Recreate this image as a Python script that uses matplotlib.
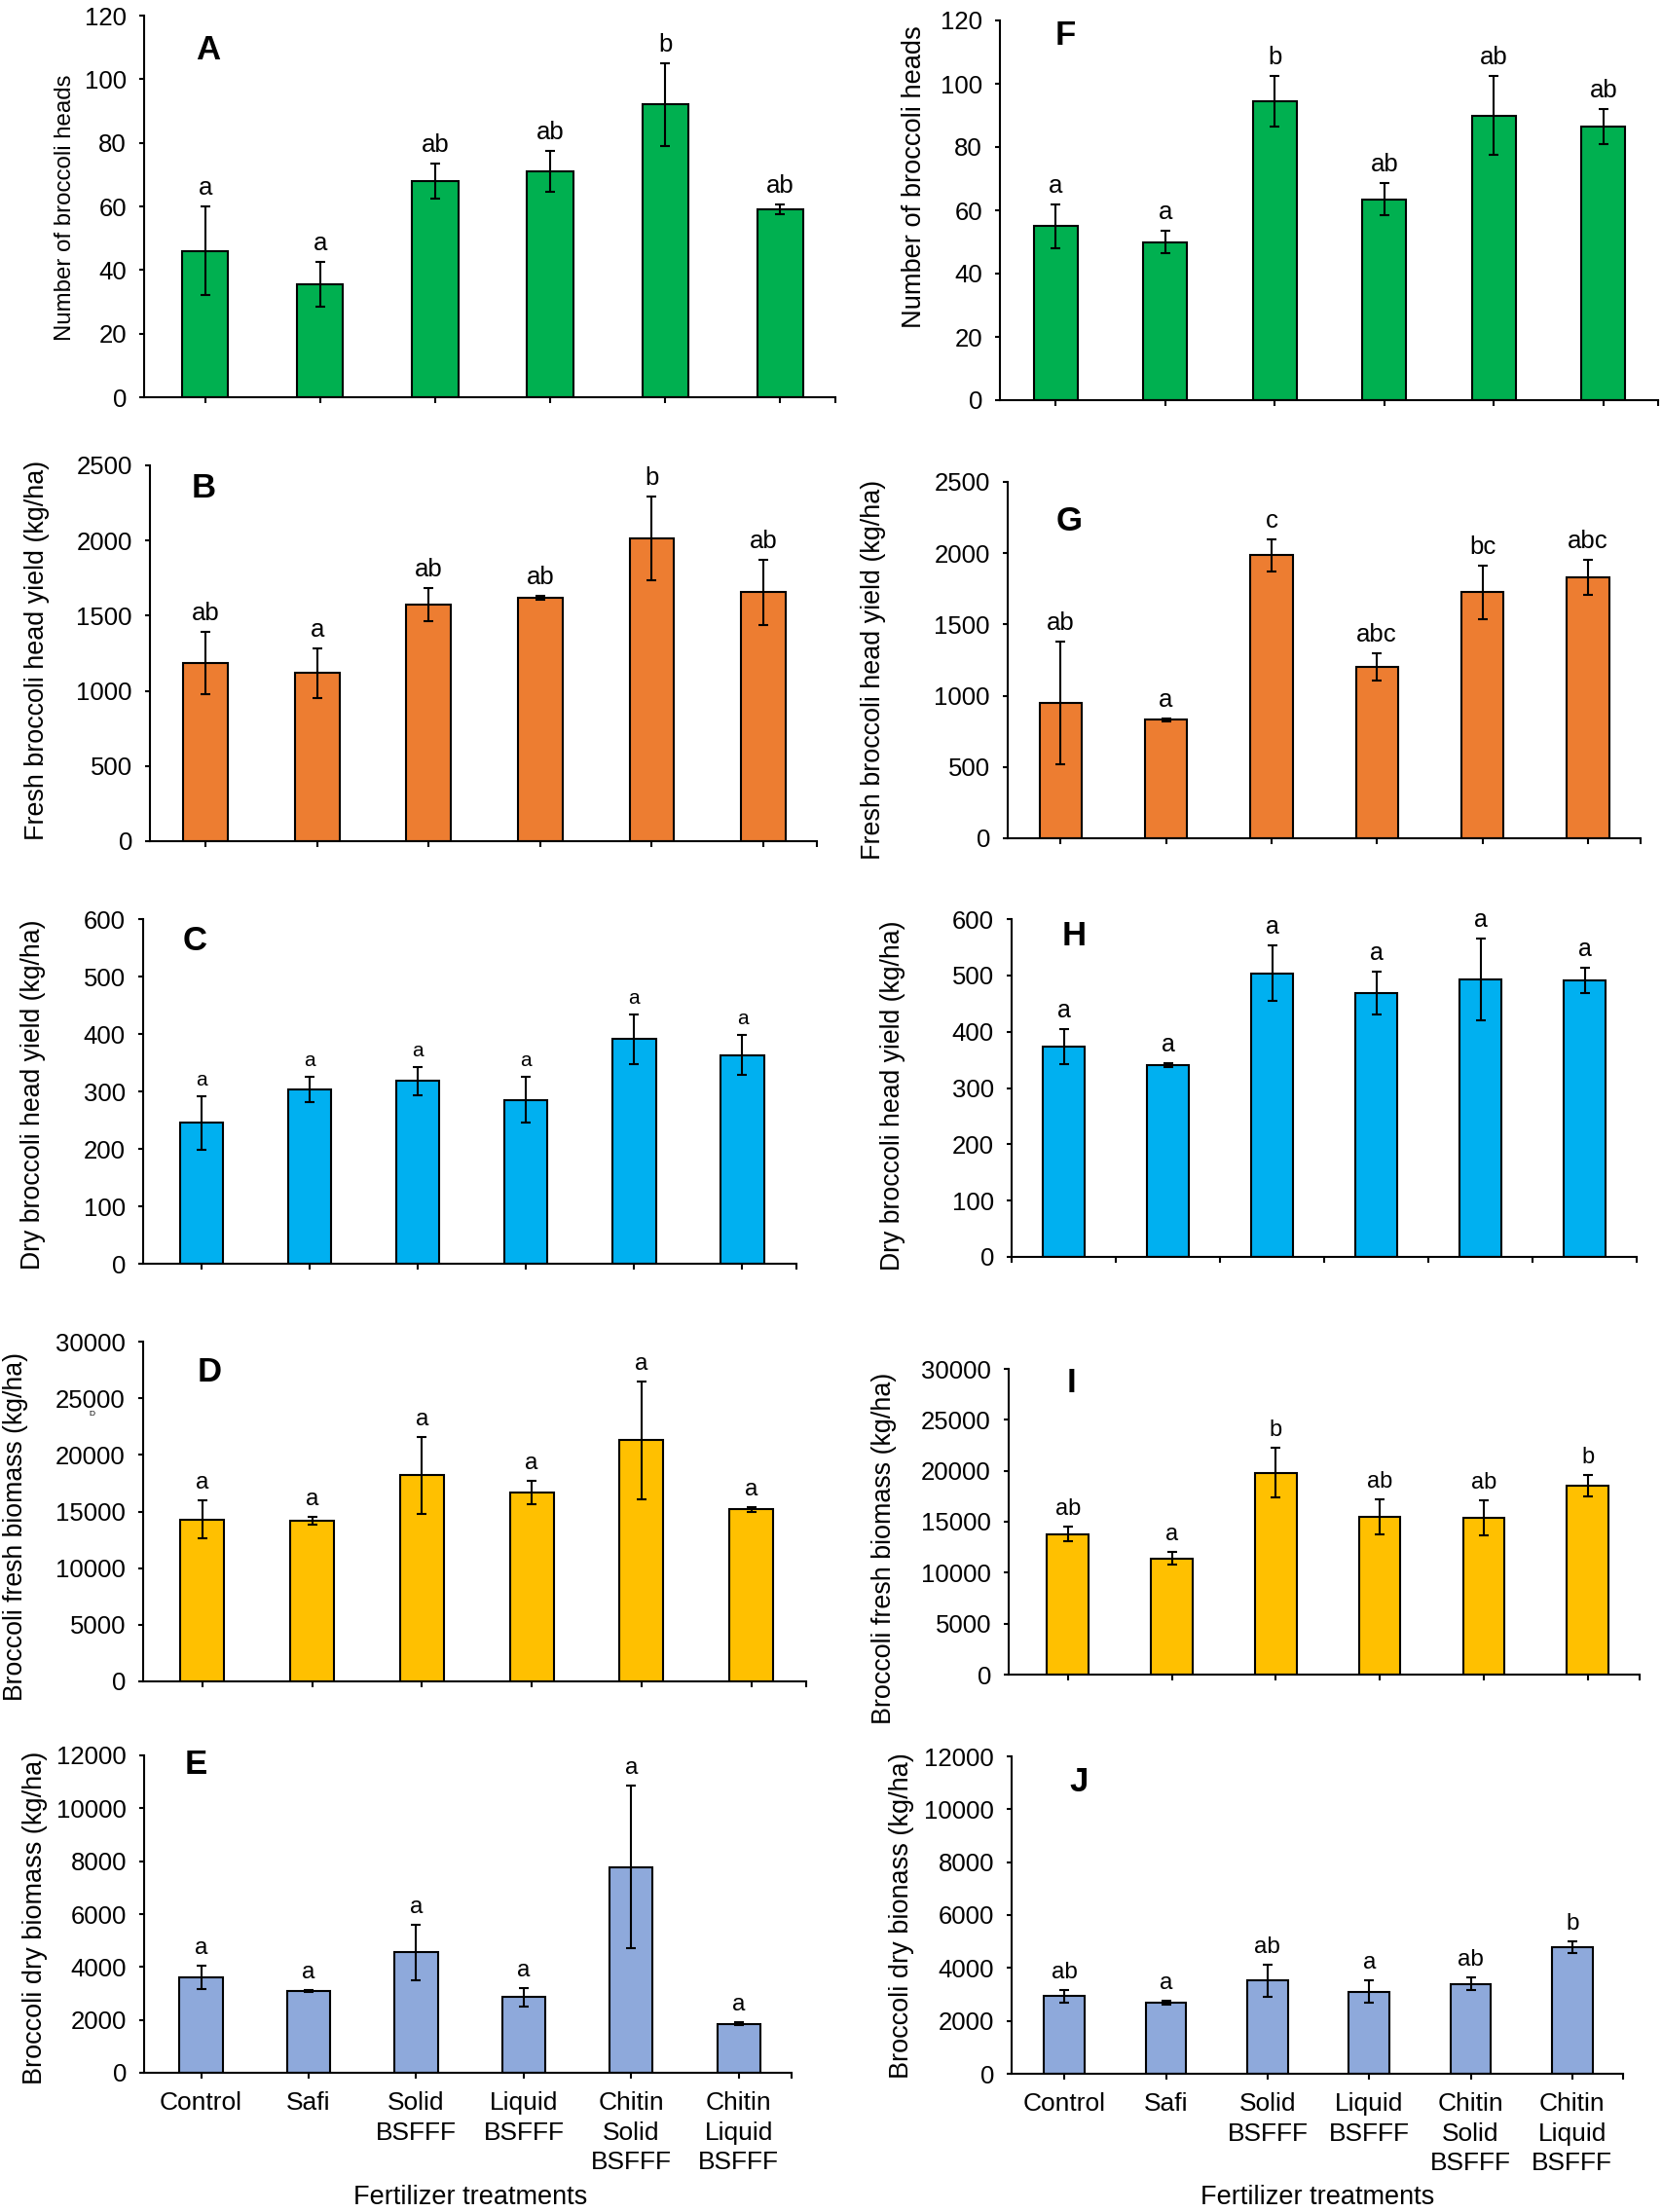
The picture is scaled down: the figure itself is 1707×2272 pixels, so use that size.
import matplotlib
matplotlib.use("Agg")
import matplotlib.pyplot as plt
import numpy as np

plt.rcParams['font.family'] = ['Liberation Sans', 'DejaVu Sans']

categories = ["Control", "Safi", "Solid\nBSFFF", "Liquid\nBSFFF", "Chitin\nSolid\nBSFFF", "Chitin\nLiquid\nBSFFF"]

# Season 1 (left column)
heads_1 = [46, 35.5, 68, 71, 92, 59]
heads_1_err = [14, 7, 5.5, 6.5, 13, 1.5]
heads_1_sig = ["a", "a", "ab", "ab", "b", "ab"]

fresh_yield_1 = [1185, 1120, 1575, 1620, 2015, 1655]
fresh_yield_1_err = [205, 165, 110, 15, 280, 215]
fresh_yield_1_sig = ["ab", "a", "ab", "ab", "b", "ab"]

dry_yield_1 = [245, 304, 318, 285, 391, 363]
dry_yield_1_err = [47, 22, 24, 40, 43, 35]
dry_yield_1_sig = ["a", "a", "a", "a", "a", "a"]

fresh_biomass_1 = [14300, 14200, 18200, 16700, 21300, 15200]
fresh_biomass_1_err = [1700, 350, 3400, 1050, 5200, 200]
fresh_biomass_1_sig = ["a", "a", "a", "a", "a", "a"]

dry_biomass_1 = [3600, 3080, 4550, 2870, 7780, 1850]
dry_biomass_1_err = [450, 40, 1050, 350, 3080, 50]
dry_biomass_1_sig = ["a", "a", "a", "a", "a", "a"]

# Season 2 (right column)
heads_2 = [55, 50, 94.5, 63.5, 90, 86.5]
heads_2_err = [7, 3.5, 8, 5, 12.5, 5.5]
heads_2_sig = ["a", "a", "b", "ab", "ab", "ab"]

fresh_yield_2 = [950, 830, 1985, 1200, 1725, 1830]
fresh_yield_2_err = [430, 10, 110, 95, 190, 125]
fresh_yield_2_sig = ["ab", "a", "c", "abc", "bc", "abc"]

dry_yield_2 = [374, 341, 504, 469, 493, 491]
dry_yield_2_err = [31, 3, 50, 38, 72, 23]
dry_yield_2_sig = ["a", "a", "a", "a", "a", "a"]

fresh_biomass_2 = [13800, 11400, 19800, 15500, 15400, 18500]
fresh_biomass_2_err = [700, 600, 2450, 1700, 1700, 1050]
fresh_biomass_2_sig = ["ab", "a", "b", "ab", "ab", "b"]

dry_biomass_2 = [2930, 2700, 3520, 3110, 3400, 4800]
dry_biomass_2_err = [240, 70, 620, 430, 240, 220]
dry_biomass_2_sig = ["ab", "a", "ab", "a", "ab", "b"]

W, H = 1707, 2272
fig = plt.figure(figsize=(W / 100, H / 100), dpi=100)

def box(l, t, r, b):
    return [l / W, 1 - b / H, (r - l) / W, (b - t) / H]

GREEN, ORANGE, BLUE, YELLOW, LBLUE = "#00B050", "#ED7D31", "#00B0F0", "#FFC000", "#8EA9DB"

panels = [
    # letter, box, values, errs, sigs, color, ymax, ystep, ylabel, label pos, label size,
    # letter pos, xlim, boundary ticks, sig size
    ("A", (148, 16, 858, 408), heads_1, heads_1_err, heads_1_sig, GREEN, 120, 20,
     "Number of broccoli heads", (67, 213), 17.3, (0.093, 0.91), (-0.53, 5.48), False, 18.5),
    ("B", (154, 478, 839, 864), fresh_yield_1, fresh_yield_1_err, fresh_yield_1_sig, ORANGE, 2500, 500,
     "Fresh broccoli head yield (kg/ha)", (38, 668), 19.4, (0.08, 0.94), (-0.5, 5.48), False, 18.5),
    ("C", (147, 944, 818, 1298), dry_yield_1, dry_yield_1_err, dry_yield_1_sig, BLUE, 600, 100,
     "Dry broccoli head yield (kg/ha)", (34, 1124), 19.2, (0.079, 0.936), (-0.54, 5.5), False, 15),
    ("D", (147, 1378, 828, 1727), fresh_biomass_1, fresh_biomass_1_err, fresh_biomass_1_sig, YELLOW, 30000, 5000,
     "Broccoli fresh biomass (kg/ha)", (16, 1568), 19.2, (0.10, 0.91), (-0.54, 5.5), False, 17.5),
    ("E", (148, 1803, 813, 2129), dry_biomass_1, dry_biomass_1_err, dry_biomass_1_sig, LBLUE, 12000, 2000,
     "Broccoli dry biomass (kg/ha)", (36, 1970), 19.5, (0.08, 0.97), (-0.53, 5.49), False, 17.5),
    ("F", (1027, 21, 1703, 411), heads_2, heads_2_err, heads_2_sig, GREEN, 120, 20,
     "Number of broccoli heads", (939, 182), 19.6, (0.10, 0.96), (-0.51, 5.5), False, 18.5),
    ("G", (1035, 495, 1685, 861), fresh_yield_2, fresh_yield_2_err, fresh_yield_2_sig, ORANGE, 2500, 500,
     "Fresh broccoli head yield (kg/ha)", (897, 688), 19.4, (0.097, 0.89), (-0.5, 5.5), False, 18.5),
    ("H", (1039, 944, 1681, 1291), dry_yield_2, dry_yield_2_err, dry_yield_2_sig, BLUE, 600, 100,
     "Dry broccoli head yield (kg/ha)", (917, 1125), 19.2, (0.10, 0.95), (-0.5, 5.5), True, 18),
    ("I", (1036, 1406, 1684, 1720), fresh_biomass_2, fresh_biomass_2_err, fresh_biomass_2_sig, YELLOW, 30000, 5000,
     "Broccoli fresh biomass (kg/ha)", (908, 1590), 19.4, (0.10, 0.955), (-0.57, 5.5), False, 17),
    ("J", (1039, 1804, 1667, 2130), dry_biomass_2, dry_biomass_2_err, dry_biomass_2_sig, LBLUE, 12000, 2000,
     "Broccoli dry bionass (kg/ha)", (926, 1968), 19.5, (0.11, 0.92), (-0.52, 5.5), False, 17.5),
]

for (letter, bx, vals, errs, sigs, color, ymax, ystep, ylabel, lpos, lsize,
     letpos, xl, boundary, ssize) in panels:
    ax = fig.add_axes(box(*bx))
    x = np.arange(len(vals))
    ax.bar(x, vals, width=0.4, color=color, edgecolor="black", linewidth=1.5, zorder=2)
    ax.errorbar(x, vals, yerr=errs, fmt="none", ecolor="black", elinewidth=1.5,
                capsize=3.5, capthick=1.5, zorder=3)
    for xi, v, e, s in zip(x, vals, errs, sigs):
        ax.annotate(s, (xi, v + e), xytext=(0, 5), textcoords="offset points",
                    ha="center", va="bottom", fontsize=ssize)
    ax.set_ylim(0, ymax)
    ax.set_yticks(np.arange(0, ymax + 1, ystep))
    ax.set_xlim(*xl)
    for sp in ["top", "right"]:
        ax.spines[sp].set_visible(False)
    for sp in ["left", "bottom"]:
        ax.spines[sp].set_linewidth(1.5)
    ax.tick_params(axis="y", labelsize=18.5, length=3.5, width=1.5, direction="out", pad=9.5)
    ax.tick_params(axis="x", length=4, width=1.5, direction="out")
    if boundary:
        ax.set_xticks(np.arange(-0.5, 6, 1.0))
        ax.set_xticklabels([])
    else:
        ax.set_xticks(x)
        ax.set_xticks([xl[1]], minor=True)
        ax.tick_params(axis="x", which="minor", length=4, width=1.5)
        if letter in ("E", "J"):
            ax.set_xticklabels(categories, fontsize=19, linespacing=1.32, va="top")
            ax.tick_params(axis="x", pad=10)
        else:
            ax.set_xticklabels([])
    ax.text(letpos[0], letpos[1], letter, transform=ax.transAxes, fontsize=25,
            fontweight="bold", ha="center", va="center")
    fig.text(lpos[0] / W, 1 - lpos[1] / H, ylabel, rotation=90, ha="center",
             va="center", fontsize=lsize)

fig.text(483 / W, 1 - 2257 / H, "Fertilizer treatments", ha="center", va="center", fontsize=19.5)
fig.text(1353 / W, 1 - 2257 / H, "Fertilizer treatments", ha="center", va="center", fontsize=19.5)
fig.text(94 / W, 1 - 1452 / H, "D", ha="center", va="center", fontsize=6)

fig.savefig("out.png", dpi=100, facecolor="white")
